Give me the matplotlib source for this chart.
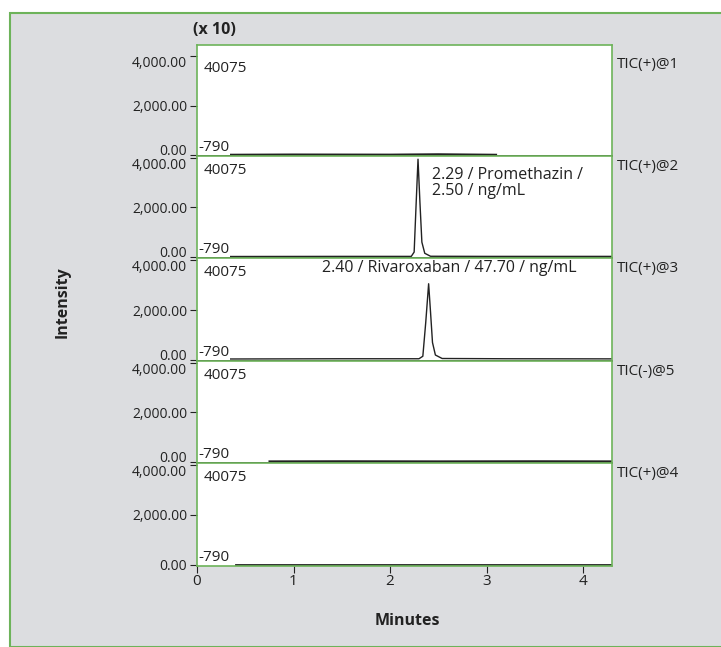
import matplotlib
matplotlib.use("Agg")
import matplotlib.pyplot as plt
from matplotlib.patches import Rectangle

plt.rcParams['font.family'] = ['Open Sans', 'DejaVu Sans']

# channel names (top to bottom)
channels = ['TIC(+)@1', 'TIC(+)@2', 'TIC(+)@3', 'TIC(-)@5', 'TIC(+)@4']
max_label = '40075'
min_label = '-790'

# traces (minutes, intensity x10)
t1 = [0.3, 1.0, 2.0, 2.5, 3.1]
y1 = [15, 25, 20, 35, 15]
t2 = [0.3, 1.5, 2.22, 2.25, 2.27, 2.29, 2.31, 2.33, 2.36, 2.42, 3.0, 4.3]
y2 = [20, 25, 25, 200, 2100, 3950, 2200, 600, 150, 30, 25, 25]
t3 = [0.3, 1.5, 2.3, 2.34, 2.37, 2.40, 2.42, 2.44, 2.47, 2.54, 3.2, 4.3]
y3 = [40, 50, 50, 150, 1500, 3050, 1900, 700, 200, 60, 50, 45]
t4 = [0.75, 1.5, 2.5, 3.5, 4.3]
y4 = [30, 35, 30, 35, 30]
t5 = [0.4, 1.5, 2.5, 3.5, 4.3]
y5 = [20, 20, 20, 20, 20]
traces = [(t1, y1), (t2, y2), (t3, y3), (t4, y4), (t5, y5)]

peaks = [None,
         (2.43, 3650, '2.29 / Promethazin /\n2.50 / ng/mL'),
         (1.3, 4000, '2.40 / Rivaroxaban / 47.70 / ng/mL'),
         None, None]

yticks = [0, 2000, 4000]
ytick_labels = ['0.00', '2,000.00', '4,000.00']
xticks = [0, 1, 2, 3, 4]

W, H = 721, 647
fig = plt.figure(figsize=(W / 100, H / 100), dpi=100)
fig.patch.set_facecolor('white')
green = '#6db35a'
ink = '#222222'
fig.patches.append(Rectangle((10 / W, 0), 1, 1 - 13 / H, transform=fig.transFigure,
                             facecolor='#dcdde0', edgecolor=green, linewidth=1.5,
                             zorder=-10))

x0, x1 = 197 / W, 612 / W
tops = [45, 156, 258, 361, 463]
bottoms = [156, 258, 361, 463, 566]
axes = []
for i in range(5):
    bot = 1 - bottoms[i] / H
    h = (bottoms[i] - tops[i]) / H
    ax = fig.add_axes([x0, bot, x1 - x0, h])
    ax.set_facecolor('white')
    t, y = traces[i]
    ax.plot(t, y, color=ink, lw=1.0 if i in (1, 2) else 1.3)
    ax.set_xlim(0, 4.3)
    ytop = 4080 if i > 0 else 4444
    ax.set_ylim(-40, ytop)
    ax.set_yticks(yticks)
    ax.set_yticklabels(ytick_labels)
    ax.tick_params(axis='y', direction='out', length=5, labelsize=10, pad=2, colors=ink)
    labs = ax.get_yticklabels()
    if i < 4:
        labs[0].set_va('baseline')
    labs[2].set_va('top')
    for s in ['left', 'right', 'top']:
        ax.spines[s].set_color(green)
        ax.spines[s].set_linewidth(1.2)
    if i < 4:
        ax.spines['bottom'].set_color(ink)
        ax.spines['bottom'].set_linewidth(1.2)
        ax.set_xticks([])
    else:
        ax.spines['bottom'].set_color(green)
        ax.spines['bottom'].set_linewidth(1.2)
        ax.set_xticks(xticks)
        ax.tick_params(axis='x', direction='out', length=5, labelsize=11, pad=1, colors=ink)
    ax.text(0.015, 3800, max_label, transform=ax.get_yaxis_transform(), fontsize=11,
            va='top', ha='left', color=ink)
    ax.text(0.004, 10, min_label, transform=ax.get_yaxis_transform(), fontsize=11,
            va='bottom', ha='left', color=ink, zorder=2,
            bbox=dict(facecolor='white', edgecolor='none', pad=0.3))
    ax.text(1.012, 3950, channels[i], transform=ax.get_yaxis_transform(), fontsize=11,
            va='top', ha='left', color=ink)
    if peaks[i] is not None:
        px, py, lbl = peaks[i]
        ax.text(px, py, lbl, fontsize=11.5, va='top', ha='left', color=ink,
                linespacing=1.05)
    axes.append(ax)

fig.text(193 / W, 1 - 30 / H, '(x 10)', fontsize=11.5, fontweight='bold',
         va='center', ha='left', color=ink)
fig.text(63 / W, 1 - 302 / H, 'Intensity', fontsize=11.5, fontweight='bold',
         rotation=90, va='center', ha='center', color=ink)
fig.text(407 / W, 1 - 621 / H, 'Minutes', fontsize=11.5, fontweight='bold',
         va='center', ha='center', color=ink)

fig.savefig('out.png', dpi=100)
